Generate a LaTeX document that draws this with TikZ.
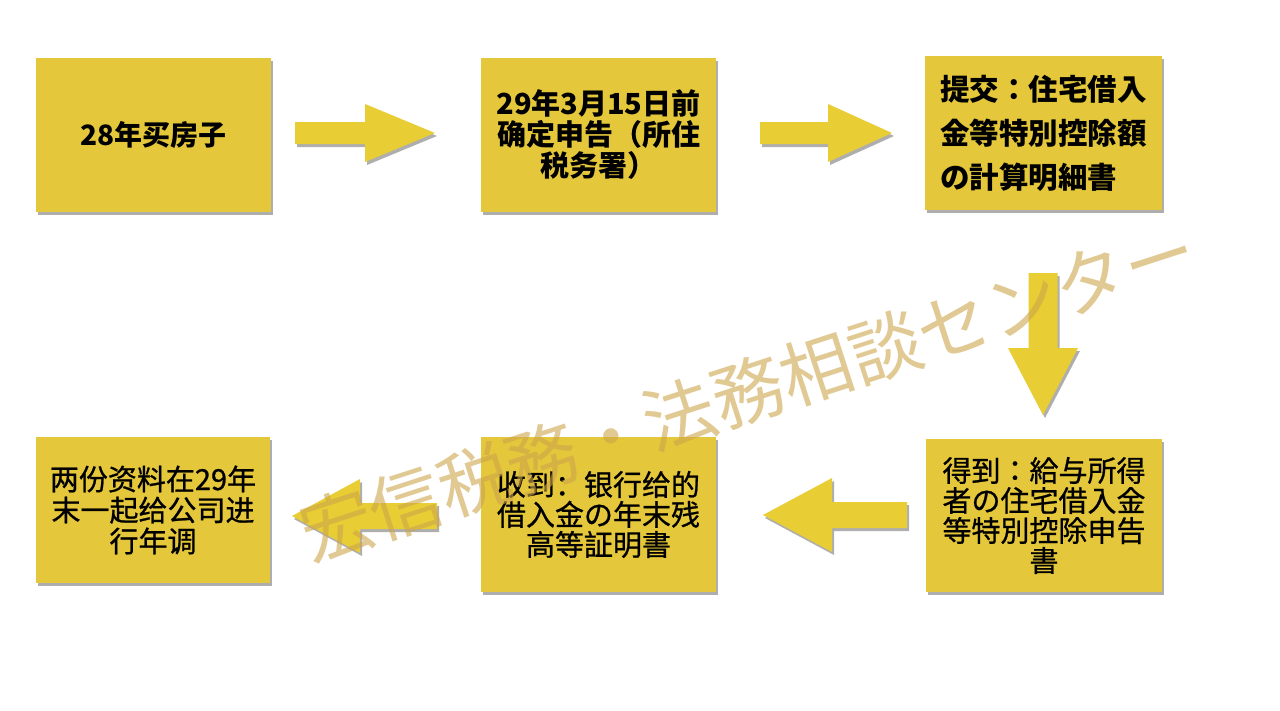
\documentclass[tikz,border=0pt]{standalone}
\usepackage{fontspec}
\newfontfamily\scfont{Noto Sans CJK SC}
\newfontfamily\jpfont{Noto Sans CJK JP}
\newfontfamily\scmed[FakeBold=0.8]{Noto Sans CJK SC}
\newfontfamily\jpmed[FakeBold=0.8]{Noto Sans CJK JP}
\usetikzlibrary{shadows}
\definecolor{boxyellow}{RGB}{228,199,58}
\definecolor{arrowyellow}{RGB}{232,205,52}
\definecolor{wmcolor}{RGB}{205,165,75}
\tikzset{
  shade/.style={drop shadow={shadow xshift=2pt,shadow yshift=-3pt,opacity=0.45,fill=black!70}},
  card/.style={rectangle, fill=boxyellow, shade, inner sep=4pt, text=black, align=center},
  arrowshape/.style={fill=arrowyellow, shade},
  wmark/.style={text=wmcolor, opacity=0.6, font=\jpfont\fontsize{72}{72}\selectfont}
}
\newcommand\harrowshape[7]{\fill[arrowshape] (#2,#5-#6) -- (#3,#5-#6) -- (#3,#5-#7) -- (#4,#5) -- (#3,#5+#7) -- (#3,#5+#6) -- (#2,#5+#6) -- cycle;}
\newcommand\varrowshape[7]{\fill[arrowshape] (#5-#6,#2) -- (#5-#6,#3) -- (#5-#7,#3) -- (#5,#4) -- (#5+#7,#3) -- (#5+#6,#3) -- (#5+#6,#2) -- cycle;}
\begin{document}
\begin{tikzpicture}[x=1pt,y=-1pt]
\useasboundingbox (0,0) rectangle (1280,710);
\fill[white] (0,0) rectangle (1280,710);

% boxes
\node[card, minimum width=235pt, minimum height=154pt, font=\scfont\bfseries\fontsize{28}{31}\selectfont] (b1) at (153.5,135) {28年买房子};
\node[card, minimum width=235pt, minimum height=154pt, font=\scfont\bfseries\fontsize{29}{31}\selectfont] (b2) at (598.5,135) {29年3月15日前\\确定申告（所住\\税务署）};
\node[card, minimum width=237pt, minimum height=154pt, align=left, font=\jpfont\bfseries\fontsize{29.5}{44}\selectfont] (b3) at (1043.5,133) {提交：住宅借入\\金等特別控除額\\の計算明細書};
\node[card, minimum width=234pt, minimum height=146pt, font=\scmed\fontsize{29}{31}\selectfont] (b4) at (153,510) {两份资料在29年\\末一起给公司进\\行年调};
\node[card, minimum width=235pt, minimum height=155pt, font=\scmed\fontsize{29}{30}\selectfont] (b5) at (598.5,514.5) {收到：银行给的\\借入金の年末残\\高等証明書};
\node[card, minimum width=236pt, minimum height=153pt, font=\jpmed\fontsize{29}{30}\selectfont] (b6) at (1044,515.5) {得到：給与所得\\者の住宅借入金\\等特別控除申告\\書};

% block arrows
\harrowshape{a1}{295}{365}{435}{133}{11}{29}
\harrowshape{a2}{760}{828}{892}{133}{11}{29}
\varrowshape{a3}{273}{348}{415}{1043}{14.5}{35}
\harrowshape{a4}{907}{832}{763}{515}{13}{37}
\harrowshape{a5}{437}{360}{292}{516}{13}{37}

% watermark
\node[wmark, rotate=18] (wm) at (748,392) {宏信税務・法務相談センター};
\end{tikzpicture}
\end{document}
